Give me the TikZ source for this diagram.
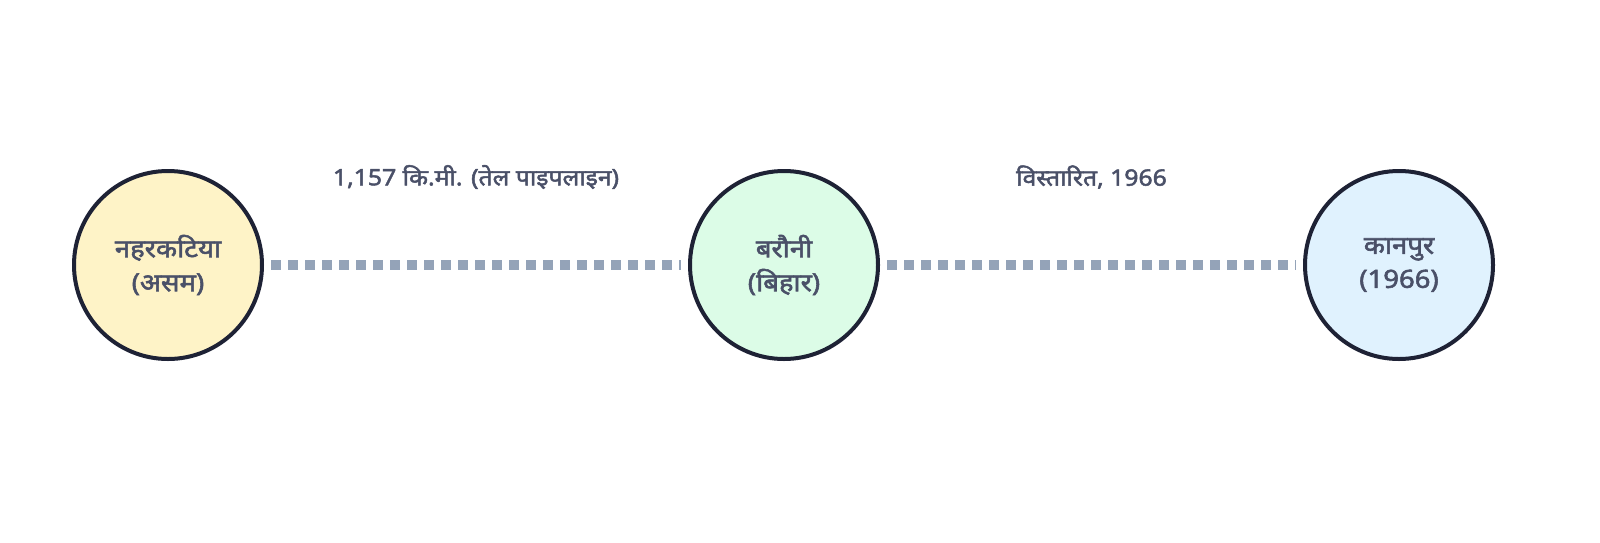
\documentclass[tikz,border=0pt]{standalone}
\usepackage{fontspec}
\setmainfont{Noto Sans}[Script=Devanagari,AutoFakeBold=2.2,FakeStretch=1.1]
\definecolor{stroke}{HTML}{1E2235}
\definecolor{txt}{HTML}{4A5068}
\definecolor{dots}{HTML}{94A3B8}
\definecolor{fyellow}{HTML}{FEF3C7}
\definecolor{fgreen}{HTML}{DCFCE7}
\definecolor{fblue}{HTML}{E0F2FE}
\tikzset{
  station/.style={circle, draw=stroke, line width=4pt, minimum size=188pt, inner sep=0pt,
    align=center, text=txt, font=\fontsize{25}{34}\selectfont\bfseries},
  link/.style={draw=dots, line width=10pt, dash pattern=on 10pt off 7pt, shorten >=7pt, shorten <=7pt},
  linklabel/.style={text=txt, font=\fontsize{22.5}{26}\selectfont\bfseries}
}
\begin{document}
\begin{tikzpicture}[x=1pt,y=-1pt]
\useasboundingbox[fill=white] (0,0) rectangle (1600,542);
\node[station, fill=fyellow] (a) at (168,265) {नहरकटिया\\(असम)};
\node[station, fill=fgreen] (b) at (784,265) {बरौनी\\(बिहार)};
\node[station, fill=fblue] (c) at (1399,265) {कानपुर\\(1966)};
\draw[link] (a) -- (b) node[midway, linklabel, yshift=88pt] (la) {1,157 कि.मी. (तेल पाइपलाइन)};
\draw[link] (b) -- (c) node[midway, linklabel, yshift=88pt] (lb) {विस्तारित, 1966};
\end{tikzpicture}
\end{document}
